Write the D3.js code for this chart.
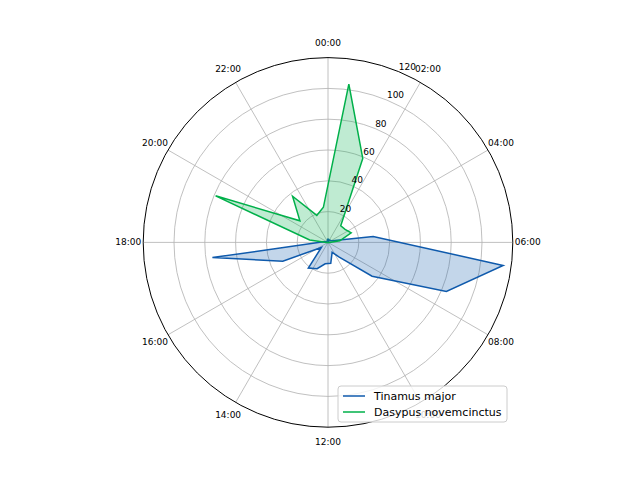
<!DOCTYPE html>
<html>
<head>
<meta charset="utf-8">
<script src="https://cdnjs.cloudflare.com/ajax/libs/d3/7.8.5/d3.min.js"></script>
<style>
  body { margin: 0; background: #fff; }
  text { font-family: "DejaVu Sans", sans-serif; }
</style>
</head>
<body>
<div id="chart"></div>
<script>
// bin centres (hour of day) for each value
var hours = [0.5, 1.5, 2.5, 3.5, 4.5, 5.5, 6.5, 7.5, 8.5, 9.5, 10.5, 11.5,
             12.5, 13.5, 14.5, 15.5, 16.5, 17.5, 18.5, 19.5, 20.5, 21.5, 22.5, 23.5];

var tinamus = [2, 1, 2, 2, 3, 29.6, 114.7, 83.2, 36.1, 12, 7, 13.7,
               14, 18.5, 21, 5.4, 31.8, 75.7, 3, 1, 1, 1, 1, 2];

var dasypus = [103.7, 59, 13.6, 14, 16.3, 7.7, 1, 0, 0, 0, 0, 0,
               0, 0, 0, 0, 0, 1, 12, 79, 23, 37.8, 19, 23];

var angleTicks = [0, 2, 4, 6, 8, 10, 12, 14, 16, 18, 20, 22];
var angleLabels = ['00:00', '02:00', '04:00', '06:00', '08:00', '10:00',
                   '12:00', '14:00', '16:00', '18:00', '20:00', '22:00'];
var radialTicks = [20, 40, 60, 80, 100, 120];

var series = [
  { name: 'Tinamus major', values: tinamus, color: '#0f5aac' },
  { name: 'Dasypus novemcinctus', values: dasypus, color: '#00b04a' }
];

var width = 640, height = 480;
var cx = 328, cy = 242.4, R = 184.8;

var svg = d3.select('#chart').append('svg')
  .attr('width', width)
  .attr('height', height);

var g = svg.append('g').attr('transform', 'translate(' + cx + ',' + cy + ')');

var r = d3.scaleLinear().domain([0, 120]).range([0, R]);
var a = d3.scaleLinear().domain([0, 24]).range([0, 2 * Math.PI]);

// grid circles
g.selectAll('.rgrid').data(radialTicks.slice(0, -1)).enter().append('circle')
  .attr('class', 'rgrid')
  .attr('r', function(d) { return r(d); })
  .attr('fill', 'none')
  .attr('stroke', '#b0b0b0')
  .attr('stroke-width', 0.8);

// spokes
g.selectAll('.agrid').data(angleTicks).enter().append('line')
  .attr('class', 'agrid')
  .attr('x1', 0).attr('y1', 0)
  .attr('x2', function(d) { return R * Math.sin(a(d)); })
  .attr('y2', function(d) { return -R * Math.cos(a(d)); })
  .attr('stroke', '#b0b0b0')
  .attr('stroke-width', 0.8);

// series
var area = d3.areaRadial()
  .angle(function(d) { return a(d.h); })
  .innerRadius(0)
  .outerRadius(function(d) { return r(d.v); })
  .curve(d3.curveLinearClosed);

var line = d3.lineRadial()
  .angle(function(d) { return a(d.h); })
  .radius(function(d) { return r(d.v); })
  .curve(d3.curveLinearClosed);

series.forEach(function(s) {
  var pts = hours.map(function(h, i) { return { h: h, v: s.values[i] }; });
  g.append('path').datum(pts)
    .attr('d', line)
    .attr('fill', s.color)
    .attr('fill-opacity', 0.25)
    .attr('stroke', 'none');
  g.append('path').datum(pts)
    .attr('d', line)
    .attr('fill', 'none')
    .attr('stroke', s.color)
    .attr('stroke-width', 1.5)
    .attr('stroke-linejoin', 'miter');
});

// outer spine
g.append('circle')
  .attr('r', R)
  .attr('fill', 'none')
  .attr('stroke', '#000')
  .attr('stroke-width', 1);

// angle labels
g.selectAll('.alab').data(angleTicks).enter().append('text')
  .attr('class', 'alab')
  .attr('x', function(d) { return (R + 15) * Math.sin(a(d)); })
  .attr('y', function(d) { return -(R + 15) * Math.cos(a(d)); })
  .attr('text-anchor', 'middle')
  .attr('dominant-baseline', 'central')
  .attr('font-size', '9px')
  .attr('fill', '#000')
  .text(function(d, i) { return angleLabels[i]; });

// radial labels at 22.5 deg
var labAng = 22.5 * Math.PI / 180;
g.selectAll('.rlab').data(radialTicks).enter().append('text')
  .attr('class', 'rlab')
  .attr('x', function(d) { return r(d) * Math.sin(labAng); })
  .attr('y', function(d) { return -r(d) * Math.cos(labAng) - 2; })
  .attr('text-anchor', 'start')
  .attr('font-size', '9px')
  .attr('fill', '#000')
  .text(function(d) { return d; });

// legend
var legend = svg.append('g').attr('transform', 'translate(338,386)');
legend.append('rect')
  .attr('width', 169).attr('height', 36)
  .attr('rx', 3).attr('ry', 3)
  .attr('fill', '#fff').attr('fill-opacity', 0.8)
  .attr('stroke', '#cccccc').attr('stroke-width', 1);

series.forEach(function(s, i) {
  var y = 10 + i * 16;
  legend.append('line')
    .attr('x1', 5).attr('x2', 27)
    .attr('y1', y).attr('y2', y)
    .attr('stroke', s.color).attr('stroke-width', 1.5);
  legend.append('text')
    .attr('x', 36).attr('y', y)
    .attr('dominant-baseline', 'central')
    .attr('font-size', '11px')
    .attr('fill', '#000')
    .text(s.name);
});
</script>
</body>
</html>
